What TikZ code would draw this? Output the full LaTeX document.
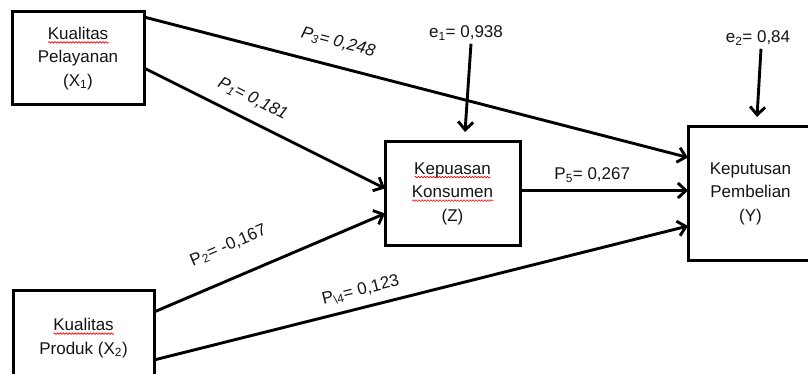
\documentclass[tikz,border=0pt]{standalone}
\usepackage{fontspec}
\setmainfont{Liberation Sans}
\usetikzlibrary{arrows.meta,decorations.pathmorphing}
\colorlet{inkgray}{black!92}
\newcommand\diagfont{\fontsize{17}{23.5}\selectfont}
\newsavebox\wordbox
\newcommand\spellwave[1]{\sbox\wordbox{#1}\leavevmode\rlap{\tikz[baseline=0pt,x=1pt,y=1pt]%
	\draw[red, line width=0.6pt, decorate, decoration={snake,amplitude=0.8pt,segment length=3pt}]%
	(0,-3) -- (\the\wd\wordbox,-3);}\usebox\wordbox}
\tikzset{%
  varbox/.style = {shape=rectangle, draw, line width=3pt, outer sep=0pt,%
                   align=center, fill=white},%
  link/.style   = {line width=2.9pt, -{Straight Barb[length=8pt,width=15pt]}},%
  coef/.style   = {sloped, inner sep=0pt},%
  coefit/.style = {coef, font=\diagfont\itshape}%
}
\begin{document}
\begin{tikzpicture}[x=1pt,y=-1pt, every node/.style={font=\diagfont, text=inkgray}]%
	\clip (0,0) rectangle (808,374);
	% variables
	\node[varbox, minimum width=132pt, minimum height=93pt] (x1) at (78,58.5)%
		{\spellwave{Kualitas}\\Pelayanan\\(X\textsubscript{1})};
	\node[varbox, minimum width=141pt, minimum height=95pt] (x2) at (83.5,338)%
		{\spellwave{Kualitas}\\Produk (X\textsubscript{2})};
	\node[varbox, minimum width=135pt, minimum height=104pt] (z) at (452.5,193.5)%
		{\spellwave{Kepuasan}\\\spellwave{Konsumen}\\(Z)};
	\node[varbox, minimum width=125pt, minimum height=133pt] (y) at (750.5,193.5)%
		{Keputusan\\Pembelian\\(Y)};
	% residuals
	\node (e1) at (466,33) {e\textsubscript{1}= 0,938};
	\node (e2) at (758,38) {e\textsubscript{2}= 0,84};
	\draw[link] ([xshift=5pt]e1.south) -- ([xshift=12.5pt,yshift=9.5pt]z.north);
	\draw[link] ([xshift=3pt]e2.south) -- ([xshift=6.5pt,yshift=10pt]y.north);
	% paths
	\draw[link] ([yshift=-5pt]x1.north east) --%
		node[coefit, pos=0.346, above=15pt] {P\textsubscript{3}= 0,248} ([yshift=36pt]y.west);
	\draw[link] ([yshift=-9.5pt]x1.east) --%
		node[coefit, pos=0.412, above=12.3pt] {P\textsubscript{1}= 0,181} ([yshift=5pt]z.west);
	\draw[link] ([yshift=26pt]x2.east) --%
		node[coef, pos=0.376, above=23pt] {P\textsubscript{2}= -0,167} ([yshift=-20pt]z.west);
	\draw[link] ([yshift=-22pt]x2.east) --%
		node[coef, pos=0.395, above=8.4pt] {P\textsubscript{\textbackslash 4}= 0,123} ([yshift=-32.5pt]y.west);
	\draw[link] ([yshift=3pt]z.east) --%
		node[coef, pos=0.43, above=6.5pt] {P\textsubscript{5}= 0,267} ([yshift=3pt]y.west);
\end{tikzpicture}
\end{document}
